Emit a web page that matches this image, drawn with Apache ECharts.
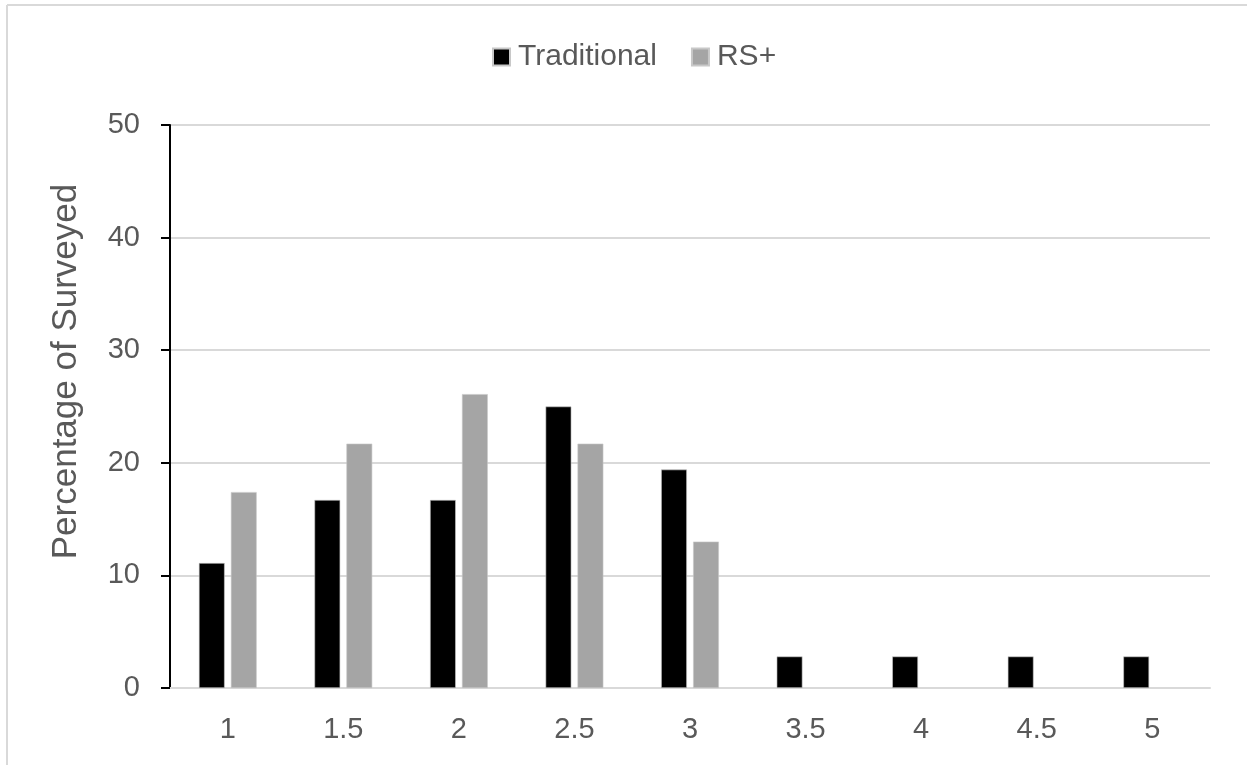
<!DOCTYPE html>
<html>
<head>
<meta charset="utf-8">
<title>Percentage of Surveyed</title>
<script src="https://cdn.jsdelivr.net/npm/echarts@6/dist/echarts.min.js"></script>
<style>
  html, body { margin: 0; padding: 0; background: #ffffff; }
  #chart { width: 1247px; height: 765px; }
</style>
</head>
<body>
<div id="chart"></div>
<script>
// Score categories along the x axis
const categories = ['1', '1.5', '2', '2.5', '3', '3.5', '4', '4.5', '5'];
// Percentage of respondents per score (null = no respondents)
const traditionalValues = [11.1, 16.7, 16.7, 25.0, 19.4, 2.8, 2.8, 2.8, 2.8];
const rsPlusValues = [17.4, 21.7, 26.1, 21.7, 13.0, null, null, null, null];
const seriesNames = ['Traditional', 'RS+'];
const yTicks = { min: 0, max: 50, interval: 10 };

const textGray = '#595959';
const gridGray = '#d9d9d9';
const fontFamily = '"Liberation Sans", Arial, Helvetica, sans-serif';

const chart = echarts.init(document.getElementById('chart'), null, { renderer: 'canvas' });

chart.setOption({
  backgroundColor: '#ffffff',
  animation: false,
  textStyle: { fontFamily: fontFamily },
  graphic: [
    // frame lines around the chart area
    { type: 'line', shape: { x1: 7, y1: 5, x2: 1247, y2: 5 }, style: { stroke: gridGray, lineWidth: 2 } },
    { type: 'line', shape: { x1: 7, y1: 5, x2: 7, y2: 765 }, style: { stroke: gridGray, lineWidth: 2 } }
  ],
  legend: {
    data: seriesNames,
    left: 487,
    top: 37,
    itemWidth: 17,
    itemHeight: 17,
    itemGap: 34,
    icon: 'rect',
    textStyle: { color: textGray, fontSize: 30, fontFamily: fontFamily, padding: [0, 0, 0, 3] }
  },
  grid: { left: 170, right: 37, top: 125, bottom: 77, containLabel: false },
  xAxis: {
    type: 'category',
    data: categories,
    axisLine: { show: true, lineStyle: { color: gridGray, width: 2 } },
    axisTick: { show: false },
    axisLabel: { color: textGray, fontSize: 29, margin: 27, fontFamily: fontFamily },
    splitLine: { show: false }
  },
  yAxis: {
    type: 'value',
    min: yTicks.min,
    max: yTicks.max,
    interval: yTicks.interval,
    name: 'Percentage of Surveyed',
    nameLocation: 'middle',
    nameGap: 86,
    // extra leading padding lifts the rotated title above the plot's midline
    nameTextStyle: { color: textGray, fontSize: 35, fontFamily: fontFamily, padding: [0, 0, 0, 70] },
    axisLine: { show: true, lineStyle: { color: '#000000', width: 2 } },
    axisTick: { show: true, inside: false, length: 9, lineStyle: { color: '#000000', width: 2 } },
    axisLabel: { color: textGray, fontSize: 29, margin: 30, fontFamily: fontFamily },
    splitLine: { show: true, lineStyle: { color: gridGray, width: 2 } }
  },
  series: [
    {
      name: seriesNames[0],
      type: 'bar',
      data: traditionalValues,
      barGap: '24%',
      barCategoryGap: '50%',
      itemStyle: { color: '#000000', borderColor: '#c8c8c8', borderWidth: 0.6 }
    },
    {
      name: seriesNames[1],
      type: 'bar',
      data: rsPlusValues,
      itemStyle: { color: '#a5a5a5', borderColor: '#c8c8c8', borderWidth: 0.6 }
    }
  ]
});
</script>
</body>
</html>
